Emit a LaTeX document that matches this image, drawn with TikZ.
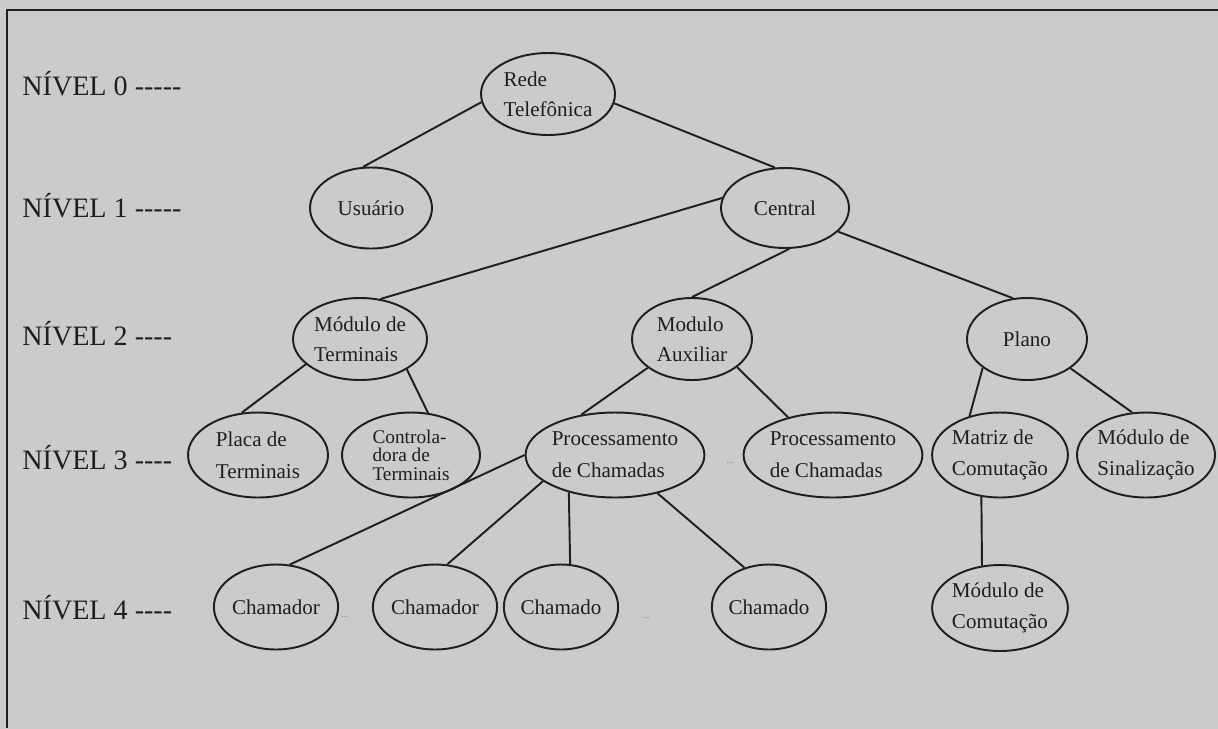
\documentclass[tikz,border=0pt]{standalone}
\usepackage{fontspec}
\setmainfont{Liberation Serif}
\usetikzlibrary{shapes.geometric}
\definecolor{papel}{RGB}{203,203,201}
\definecolor{tinta}{RGB}{30,30,30}
\tikzset{
    %Define style for the ellipses
    bloco/.style={
           ellipse,
           draw=tinta, line width=1.1pt,
           inner sep=0pt,
           minimum width=2.6cm,
           minimum height=1.66cm,
           font=\fontsize{12}{14}\selectfont,
           text=tinta,
           align=left},
    % level labels on the left
    nivel/.style={
           anchor=west,
           inner sep=0pt,
           font=\fontsize{16}{18}\selectfont,
           text=tinta},
    reticencias/.style={
           font=\tiny,
           text=black!55},
    % Define line style
    liga/.style={
           draw=tinta,
           line width=1.1pt}
}

\begin{document}
\begin{tikzpicture}[x=0.02cm,y=-0.02cm]
\useasboundingbox (0,0) rectangle (1218,728);
\fill[papel] (-5,-5) rectangle (1223,733);
% frame (only top and left edges survive)
\draw[liga] (1218,10) -- (7,10) -- (7,728);
 %levels
\node[nivel] (n0) at (22,84) {NÍVEL 0 -{}-{}-{}-{}-};
\node[nivel] (n1) at (22,206) {NÍVEL 1 -{}-{}-{}-{}-};
\node[nivel] (n2) at (22,334) {NÍVEL 2 -{}-{}-{}-};
\node[nivel] (n3) at (22,458) {NÍVEL 3 -{}-{}-{}-};
\node[nivel] (n4) at (22,608) {NÍVEL 4 -{}-{}-{}-};
 %nodes
\node[bloco, minimum width=2.68cm, minimum height=1.64cm] (rede) at (548,94) {Rede\\[3pt]Telefônica};
\node[bloco, minimum width=2.44cm, minimum height=1.62cm] (usu) at (371,208) {Usuário};
\node[bloco, minimum width=2.56cm, minimum height=1.60cm] (central) at (785,208) {Central};
\node[bloco, minimum width=2.68cm, minimum height=1.64cm] (mterm) at (360,339) {Módulo de\\[3pt]Terminais};
\node[bloco, minimum width=2.40cm, minimum height=1.64cm] (maux) at (692,339) {Modulo\\[3pt]Auxiliar};
\node[bloco, minimum width=2.40cm, minimum height=1.64cm] (plano) at (1027,339) {Plano};
\node[bloco, minimum width=2.80cm, minimum height=1.70cm] (placa) at (258,455) {Placa de\\[4pt]Terminais};
\node[bloco, minimum width=2.76cm, minimum height=1.70cm, font=\fontsize{11}{10.5}\selectfont] (ctrl) at (411,455) {Controla-\\dora de\\Terminais};
\node[bloco, minimum width=3.48cm, minimum height=1.70cm] (proc1) at (615,455) {Processamento\\[4pt]de Chamadas};
\node[bloco, minimum width=3.40cm, minimum height=1.70cm] (proc2) at (833,455) {Processamento\\[4pt]de Chamadas};
\node[bloco, minimum width=2.68cm, minimum height=1.70cm] (matriz) at (1000,455) {Matriz de\\[4pt]Comutação};
\node[bloco, minimum width=2.76cm, minimum height=1.70cm] (sinal) at (1146,455) {Módulo de\\[4pt]Sinalização};
\node[bloco, minimum width=2.24cm, minimum height=1.70cm] (chr1) at (276,607) {Chamador};
\node[bloco, minimum width=2.28cm, minimum height=1.70cm] (chr2) at (435,607) {Chamador};
\node[bloco, minimum width=2.24cm, minimum height=1.70cm] (cdo1) at (561,607) {Chamado};
\node[bloco, minimum width=2.28cm, minimum height=1.70cm] (cdo2) at (769,607) {Chamado};
\node[bloco, minimum width=2.68cm, minimum height=1.72cm] (mcom) at (1000,608) {Módulo de\\[4pt]Comutação};
 %dots between siblings
\node[reticencias] (d1) at (730,463) {...};
\node[reticencias] (d2) at (345,617) {...};
\node[reticencias] (d3) at (647,618) {...};
 %connections
\path[liga]
    (rede.187) edge (usu.101)
    (rede.352) edge (central.104)
    (central.171) edge (mterm.63)
    (central.276) edge (maux.90)
    (central.336) edge (plano.109)
    (mterm.205) edge (placa.111)
    (mterm.327) edge (ctrl.68)
    (maux.213) edge (proc1.130)
    (maux.328) edge (proc2.140)
    (plano.213) edge (matriz.128)
    (plano.326) edge (sinal.108)
    (proc1.180) edge (chr1.72)
    (proc1.200) edge (chr2.74)
    (proc1.219) edge (cdo1.78)
    (proc1.318) edge (cdo2.122)
    (matriz.246) edge (mcom.113.5);
\end{tikzpicture}
\end{document}
